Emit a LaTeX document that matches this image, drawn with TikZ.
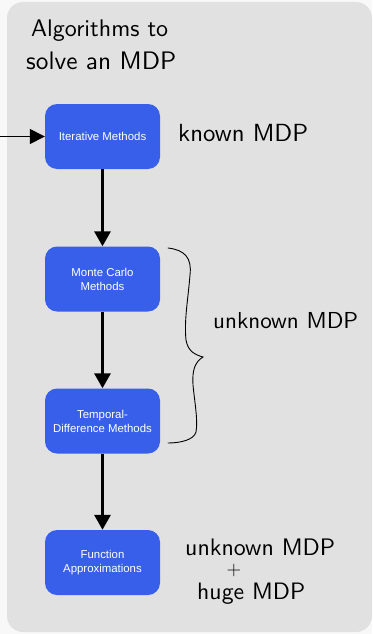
\documentclass[tikz,border=0pt]{standalone}
\usepackage{fontspec}
\usepackage{graphicx}
\usetikzlibrary{arrows.meta}
\newfontfamily\boxfont{Liberation Sans}
\definecolor{bgout}{RGB}{248,248,248}
\definecolor{panel}{RGB}{225,225,225}
\definecolor{boxblue}{RGB}{56,95,233}
\tikzset{
  algbox/.style={draw=none, fill=boxblue, rounded corners=12pt, minimum width=115pt, minimum height=65pt,
    text=white, align=center, inner sep=2pt, font=\boxfont\fontsize{11.4}{14}\selectfont},
  flow/.style={line width=3pt, -{Triangle[width=16pt,length=15pt]}},
  hand/.style={inner sep=0pt, anchor=west, font=\sffamily},
}
\begin{document}
\begin{tikzpicture}[x=1pt,y=1pt]
\useasboundingbox (0,0) rectangle (372,-634);
\fill[bgout] (0,0) rectangle (372,-634);
\fill[panel, rounded corners=16pt] (7,-2) rectangle (372,-632);

\node[algbox] (it) at (102.5,-136.5) {Iterative Methods};
\node[algbox] (mc) at (102.5,-279) {Monte Carlo\\Methods};
\node[algbox] (td) at (102.5,-421) {Temporal-\\Difference Methods};
\node[algbox] (fa) at (102.5,-562.5) {Function\\Approximations};

\coordinate (in) at (0,-136.5);
\draw[line width=1.5pt, -{Triangle[width=15pt,length=15pt]}] (in) -- (it.west);
\draw[flow] (it.south) -- (mc.north);
\draw[flow] (mc.south) -- (td.north);
\draw[flow] (td.south) -- (fa.north);

\node[hand] (title1) at (31,-31) {\resizebox{137pt}{!}{Algorithms to}};
\node[hand] (title2) at (26,-61) {\resizebox{150pt}{!}{solve an MDP}};
\node[hand] (known) at (178,-133) {\resizebox{130pt}{!}{known MDP}};
\node[hand] (unk) at (213,-321) {\resizebox{145pt}{!}{unknown MDP}};
\node[hand] (unk2) at (185,-547) {\resizebox{150pt}{!}{unknown MDP}};
\node[inner sep=0pt, font=\sffamily\fontsize{20}{20}\selectfont] (plus) at (234,-571) {+};
\node[hand] (huge) at (197,-594) {\resizebox{108pt}{!}{huge MDP}};

\draw[line width=0.9pt, line cap=round] (168,-248) .. controls (185,-250) and (192,-258) .. (190,-275)
  .. controls (188,-300) and (184,-320) .. (186,-340)
  .. controls (188,-352) and (196,-355) .. (203,-357)
  .. controls (195,-362) and (192,-370) .. (193,-385)
  .. controls (195,-405) and (198,-420) .. (196,-432)
  .. controls (194,-440) and (180,-443) .. (168,-443);
\end{tikzpicture}
\end{document}
